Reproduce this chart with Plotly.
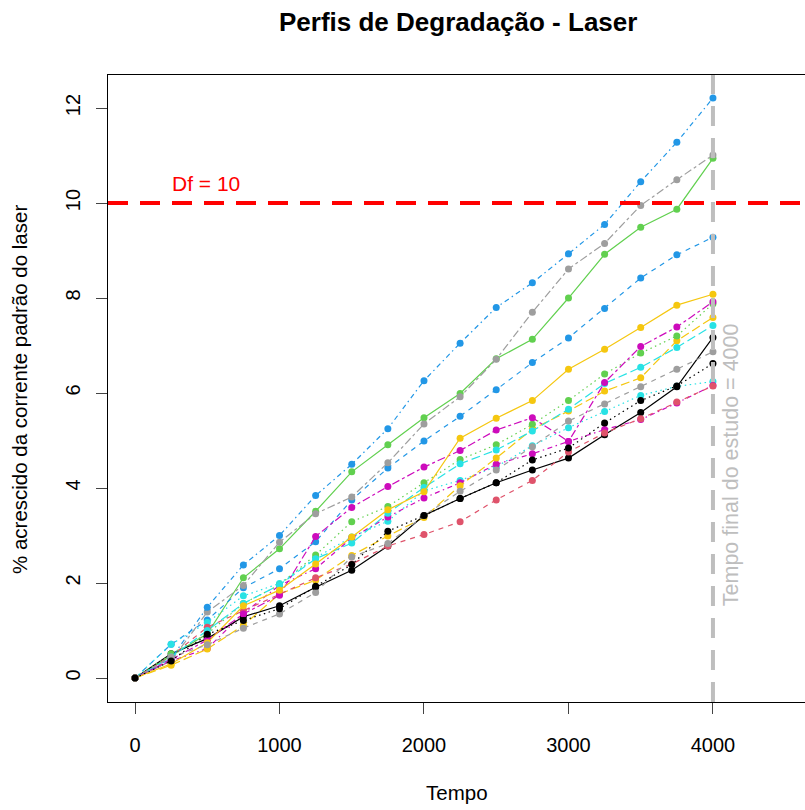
import plotly.graph_objects as go

tempo = [0, 250, 500, 750, 1000, 1250, 1500, 1750, 2000, 2250, 2500, 2750, 3000, 3250, 3500, 3750, 4000]

u01 = [0, 0.47, 0.93, 2.11, 2.72, 3.51, 4.34, 4.91, 5.48, 5.99, 6.72, 7.13, 8.00, 8.92, 9.49, 9.87, 10.94]
u02 = [0, 0.71, 1.22, 1.90, 2.30, 2.87, 3.75, 4.42, 4.99, 5.51, 6.07, 6.64, 7.16, 7.78, 8.42, 8.91, 9.28]
u03 = [0, 0.71, 1.17, 1.73, 1.99, 2.53, 2.97, 3.30, 3.94, 4.16, 4.45, 4.89, 5.27, 5.61, 5.95, 6.14, 6.24]
u04 = [0, 0.36, 0.62, 1.36, 1.95, 2.30, 2.95, 3.39, 3.79, 4.11, 4.50, 4.72, 4.98, 5.23, 5.44, 5.79, 6.16]
u05 = [0, 0.27, 0.61, 1.11, 1.77, 2.06, 2.58, 2.99, 3.38, 4.05, 4.63, 5.24, 5.62, 6.04, 6.32, 7.10, 7.59]
u06 = [0, 0.36, 1.39, 1.95, 2.86, 3.46, 3.81, 4.53, 5.35, 5.92, 6.71, 7.70, 8.61, 9.15, 9.95, 10.49, 11.01]
u07 = [0, 0.51, 0.83, 1.29, 1.52, 1.91, 2.27, 2.78, 3.42, 3.78, 4.11, 4.38, 4.63, 5.12, 5.59, 6.13, 7.17]
u08 = [0, 0.46, 1.07, 1.42, 1.77, 2.11, 2.40, 2.78, 3.02, 3.29, 3.75, 4.16, 4.76, 5.16, 5.46, 5.81, 6.15]
u09 = [0, 0.51, 0.93, 1.57, 1.96, 2.59, 3.29, 3.61, 4.11, 4.60, 4.91, 5.34, 5.84, 6.40, 6.84, 7.20, 7.88]
u10 = [0, 0.41, 1.49, 2.38, 3.00, 3.84, 4.50, 5.25, 6.26, 7.05, 7.80, 8.32, 8.93, 9.55, 10.45, 11.28, 12.21]
u11 = [0, 0.44, 1.00, 1.57, 1.96, 2.51, 2.84, 3.47, 4.01, 4.51, 4.80, 5.20, 5.66, 6.20, 6.54, 6.96, 7.42]
u12 = [0, 0.39, 0.80, 1.35, 1.74, 2.98, 3.59, 4.03, 4.44, 4.79, 5.22, 5.48, 4.98, 6.22, 6.98, 7.39, 7.92]
u13 = [0, 0.30, 0.74, 1.52, 1.85, 2.40, 2.97, 3.54, 3.92, 5.05, 5.47, 5.84, 6.50, 6.92, 7.38, 7.85, 8.08]
u14 = [0, 0.44, 0.70, 1.05, 1.35, 1.80, 2.55, 2.83, 3.42, 3.93, 4.38, 4.87, 5.41, 5.77, 6.13, 6.50, 6.87]
u15 = [0, 0.36, 0.92, 1.21, 1.46, 1.93, 2.39, 3.09, 3.42, 3.78, 4.11, 4.59, 4.84, 5.37, 5.84, 6.15, 6.62]

unidades = [u01, u02, u03, u04, u05, u06, u07, u08, u09, u10, u11, u12, u13, u14, u15]

df_limite = 10
tempo_final = 4000
x_ticks = [0, 1000, 2000, 3000, 4000]
y_ticks = [0, 2, 4, 6, 8, 10, 12]

titulo = "Perfis de Degradação - Laser"
rotulo_x = "Tempo"
rotulo_y = "% acrescido da corrente padrão do laser"
texto_df = "Df = 10"
texto_final = "Tempo final do estudo = 4000"

palette = ["#000000", "#DF536B", "#61D04F", "#2297E6", "#28E2E5", "#CD0BBC", "#F5C710", "#9E9E9E"]
dashes = ["solid", "5px,5px", "1.5px,3.5px", "1.5px,3.5px,5px,3.5px", "9px,4px", "3px,3px,8px,3px"]

FONT = "Liberation Sans, Arial, sans-serif"

W, H = 805, 810
ML, MR, MT, MB = 108, 0, 75, 108
PW, PH = W - ML - MR, H - MT - MB


def px_x(px):
    return (px - ML) / PW


def px_y(py):
    return (H - MB - py) / PH


fig = go.Figure()
for i, vals in enumerate(unidades):
    u = i + 1
    col = palette[(u + 1) % 8]
    fig.add_trace(go.Scatter(
        x=tempo, y=vals, mode="lines+markers",
        line=dict(color=col, width=1.2, dash=dashes[(u - 1) % 6]),
        marker=dict(color=col, size=7),
        showlegend=False, hoverinfo="skip"))

fig.add_hline(y=df_limite, line=dict(color="#FF0000", width=4, dash="20px,12px"))
fig.add_vline(x=tempo_final, line=dict(color="#BEBEBE", width=4, dash="20px,12px"))

fig.add_annotation(x=490, y=df_limite, xref="x", yref="y", text=texto_df, showarrow=False,
                   xanchor="center", yanchor="middle", yshift=20,
                   font=dict(family=FONT, size=21, color="#FF0000"))
fig.add_annotation(x=tempo_final, y=4.5, xref="x", yref="y", text=texto_final,
                   showarrow=False, textangle=-90, xanchor="center", yanchor="middle", xshift=18,
                   font=dict(family=FONT, size=21.5, color="#BEBEBE"))

fig.add_annotation(x=px_x(458), y=px_y(22), xref="paper", yref="paper", text="<b>" + titulo + "</b>",
                   showarrow=False, xanchor="center", yanchor="middle",
                   font=dict(family=FONT, size=26, color="#000000"))
fig.add_annotation(x=px_x(457), y=px_y(792), xref="paper", yref="paper", text=rotulo_x,
                   showarrow=False, xanchor="center", yanchor="middle",
                   font=dict(family=FONT, size=20.5, color="#000000"))
fig.add_annotation(x=px_x(19), y=px_y(390), xref="paper", yref="paper", text=rotulo_y,
                   showarrow=False, xanchor="center", yanchor="middle", textangle=-90,
                   font=dict(family=FONT, size=20.5, color="#000000"))

fig.update_layout(
    width=W, height=H,
    margin=dict(l=ML, r=MR, t=MT, b=MB),
    paper_bgcolor="white", plot_bgcolor="white",
    font=dict(family=FONT, size=20, color="#000000"),
    xaxis=dict(range=[-187, 4637], tickvals=x_ticks, ticks="outside", ticklen=11,
               showline=True, linecolor="#000000", linewidth=1, mirror=True,
               showgrid=False, zeroline=False, ticklabelstandoff=14),
    yaxis=dict(range=[-0.505, 12.695], tickvals=y_ticks, ticks="outside", ticklen=11,
               showline=True, linecolor="#000000", linewidth=1, mirror=False,
               showgrid=False, zeroline=False, tickangle=-90, ticklabelstandoff=8),
)

fig.write_html("out.html", config={"displayModeBar": False},
               post_script="document.body.style.margin='0px';")
